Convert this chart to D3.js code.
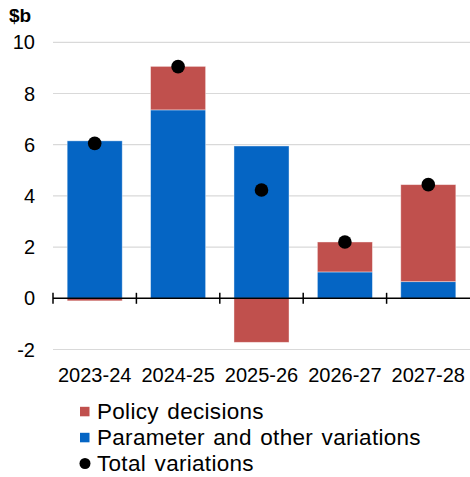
<!DOCTYPE html>
<html>
<head>
<meta charset="utf-8">
<script src="https://cdn.jsdelivr.net/npm/d3@7"></script>
<style>
  html, body { margin: 0; padding: 0; background: #fff; }
  svg { display: block; font-family: "Liberation Sans", Arial, sans-serif; }
</style>
</head>
<body>
<svg id="chart" width="470" height="477"></svg>
<script>
// Fiscal years shown on the x axis
const years = ["2023-24", "2024-25", "2025-26", "2026-27", "2027-28"];
// Contributions to the variation, $b
const parameterVariations = [6.15, 7.36, 5.95, 1.03, 0.65];
const policyDecisions = [-0.10, 1.70, -1.72, 1.17, 3.79];
const totalVariations = [6.05, 9.05, 4.23, 2.20, 4.44];
// Y axis ticks
const yTicks = [-2, 0, 2, 4, 6, 8, 10];

const seriesNames = ["Policy decisions", "Parameter and other variations", "Total variations"];
const colors = { policy: "#C0504D", param: "#0565C4", total: "#000000" };

const svg = d3.select("#chart");
const margin = { left: 53, right: 0, top: 42, bottom: 0 };
const plotRight = 470;

const x = d3.scaleBand().domain(years).range([margin.left, plotRight])
  .paddingInner(0.34).paddingOuter(0.17);
const y = d3.scaleLinear().domain([-2, 10]).range([349.5, 42.3]);

// Gridlines
svg.append("g").selectAll("line").data(yTicks.filter(d => d !== 0)).join("line")
  .attr("x1", margin.left).attr("x2", plotRight)
  .attr("y1", d => y(d)).attr("y2", d => y(d))
  .attr("stroke", "#d9d9d9").attr("stroke-width", 1.2);

// Y tick labels
svg.append("g").selectAll("text").data(yTicks).join("text")
  .attr("x", 35).attr("y", d => y(d)).attr("dy", "0.35em")
  .attr("text-anchor", "end").attr("font-size", 20).attr("fill", "#000")
  .text(d => d);

// Unit label
svg.append("text").attr("x", 9).attr("y", 22).attr("font-size", 19)
  .attr("font-weight", "bold").text("$b");

// Stacked bars: positives stack up from zero, negatives stack down
const stacks = years.map((yr, i) => {
  const parts = [];
  let pos = 0, neg = 0;
  [["param", parameterVariations[i]], ["policy", policyDecisions[i]]].forEach(([k, v]) => {
    if (v >= 0) { parts.push({ yr, k, y0: pos, y1: pos + v }); pos += v; }
    else { parts.push({ yr, k, y0: neg + v, y1: neg }); neg += v; }
  });
  return parts;
}).flat();

svg.append("g").selectAll("rect").data(stacks).join("rect")
  .attr("x", d => x(d.yr)).attr("width", x.bandwidth())
  .attr("y", d => y(d.y1)).attr("height", d => y(d.y0) - y(d.y1))
  .attr("fill", d => colors[d.k])
  .attr("stroke", "rgba(255,255,255,0.5)").attr("stroke-width", 0.8);

// Zero axis with category boundary ticks
const zeroY = y(0);
svg.append("line").attr("x1", margin.left).attr("x2", plotRight)
  .attr("y1", zeroY).attr("y2", zeroY).attr("stroke", "#000").attr("stroke-width", 1.5);
const bounds = years.map(yr => x(yr) - x.step() * x.paddingInner() / 2);
bounds[0] = margin.left;
svg.append("g").selectAll("line").data(bounds).join("line")
  .attr("x1", d => d).attr("x2", d => d)
  .attr("y1", zeroY - 5.5).attr("y2", zeroY + 5.5)
  .attr("stroke", "#000").attr("stroke-width", 1.5);

// Total markers
svg.append("g").selectAll("circle").data(years).join("circle")
  .attr("cx", d => x(d) + x.bandwidth() / 2)
  .attr("cy", (d, i) => y(totalVariations[i]))
  .attr("r", 6.8).attr("fill", colors.total);

// X labels
svg.append("g").selectAll("text").data(years).join("text")
  .attr("x", d => x(d) + x.bandwidth() / 2).attr("y", 375).attr("dy", "0.35em")
  .attr("text-anchor", "middle").attr("font-size", 20).text(d => d);

// Legend
const legend = svg.append("g");
const rows = [
  { name: seriesNames[0], color: colors.policy, shape: "rect" },
  { name: seriesNames[1], color: colors.param, shape: "rect" },
  { name: seriesNames[2], color: colors.total, shape: "circle" }
];
rows.forEach((r, i) => {
  const cy = 411.5 + i * 26;
  if (r.shape === "rect") {
    legend.append("rect").attr("x", 80).attr("y", cy - 4.7).attr("width", 9.5).attr("height", 9.5).attr("fill", r.color);
  } else {
    legend.append("circle").attr("cx", 85).attr("cy", cy).attr("r", 5.5).attr("fill", r.color);
  }
  legend.append("text").attr("x", 97).attr("y", cy).attr("dy", "0.35em")
    .attr("font-size", 22.5).attr("letter-spacing", 0.3).attr("word-spacing", 2).text(r.name);
});
</script>
</body>
</html>
